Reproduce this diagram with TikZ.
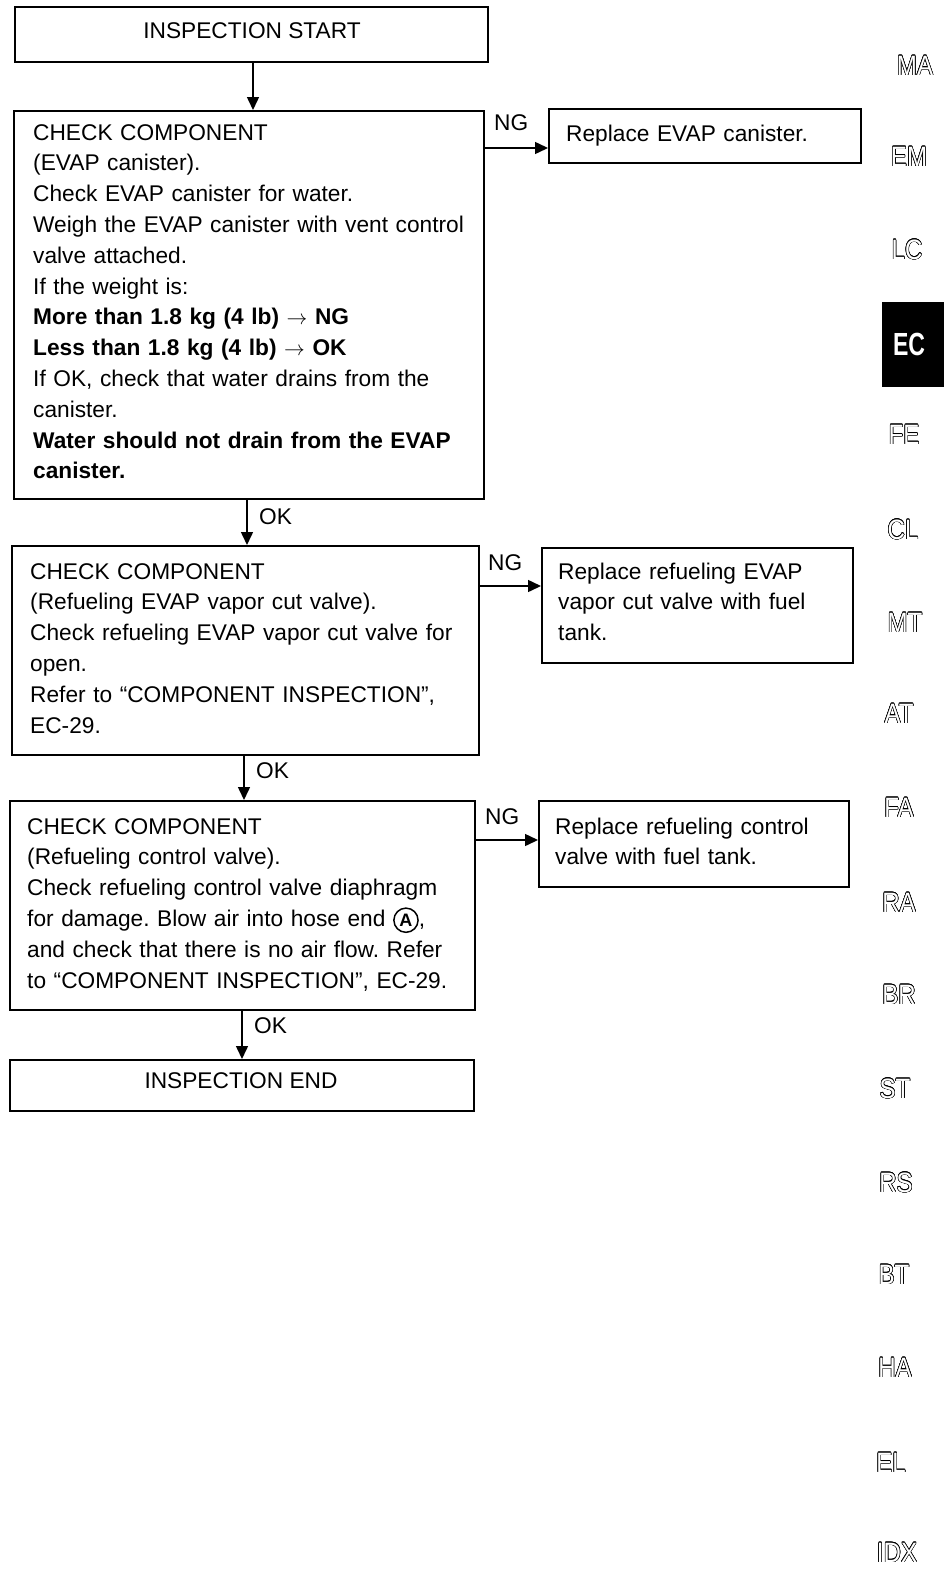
\documentclass[tikz,border=0pt]{standalone}
\usepackage{fontspec}
\setmainfont{Liberation Sans}
\usepackage{graphicx}
\usepackage[copies]{contour}
\contourlength{0.6pt}
\usetikzlibrary{arrows.meta}
\frenchspacing
\newcommand\sidetxt[1]{\scalebox{0.86}[1]{\contour{black}{#1}}}
\newcommand\circA{\tikz[baseline=(ca.base)]\node[circle,draw,line width=1.5pt,inner sep=2.2pt,font=\bfseries\fontsize{18}{18}\selectfont](ca){A};}
\begin{document}
\begin{tikzpicture}[x=1pt,y=-1pt,
  box/.style={draw,line width=1.7pt,inner sep=0pt,anchor=north west},
  txt/.style={inner sep=0pt,anchor=base west,align=left,text width=460pt,font=\fontsize{22.7}{30.8}\selectfont},
  lbl/.style={inner sep=0pt,anchor=base west,font=\fontsize{22.7}{30.8}\selectfont},
  ctxt/.style={inner sep=0pt,anchor=base,font=\fontsize{22.7}{30.8}\selectfont},
  arr/.style={line width=1.5pt,-{Triangle[length=13pt,width=12pt]}},
  side/.style={inner sep=0pt,text=white,font=\fontsize{28}{28}\selectfont}]
\useasboundingbox (0,0) rectangle (944,1571);
% boxes
\node[box,minimum width=473pt,minimum height=55pt] (start) at (14,6) {};
\node[ctxt] (tstart) at (252,38.5) {INSPECTION START};
\node[box,minimum width=470pt,minimum height=388pt] (b1) at (13,110) {};
\node[box,minimum width=312pt,minimum height=54pt] (r1) at (548,108) {};
\node[box,minimum width=467pt,minimum height=209pt] (b2) at (11,545) {};
\node[box,minimum width=311pt,minimum height=115pt] (r2) at (541,547) {};
\node[box,minimum width=465pt,minimum height=209pt] (b3) at (9,800) {};
\node[box,minimum width=310pt,minimum height=86pt] (r3) at (538,800) {};
\node[box,minimum width=464pt,minimum height=51pt] (end) at (9,1059) {};
\node[ctxt] (tend) at (241,1088.5) {INSPECTION END};
% texts
\node[txt] (t1) at (33,140) {CHECK COMPONENT\\
(EVAP canister).\\
Check EVAP canister for water.\\
Weigh the EVAP canister with vent control\\
valve attached.\\
If the weight is:\\
\textbf{More than 1.8 kg (4 lb) $\rightarrow$ NG}\\
\textbf{Less than 1.8 kg (4 lb) $\rightarrow$ OK}\\
If OK, check that water drains from the\\
canister.\\
\textbf{Water should not drain from the EVAP}\\
\textbf{canister.}};
\node[txt] (tr1) at (566,141.5) {Replace EVAP canister.};
\node[txt] (t2) at (30,579) {CHECK COMPONENT\\
(Refueling EVAP vapor cut valve).\\
Check refueling EVAP vapor cut valve for\\
open.\\
Refer to “COMPONENT INSPECTION”,\\
EC-29.};
\node[txt] (tr2) at (558,579) {Replace refueling EVAP\\
vapor cut valve with fuel\\
tank.};
\node[txt] (t3) at (27,834) {CHECK COMPONENT\\
(Refueling control valve).\\
Check refueling control valve diaphragm\\
for damage. Blow air into hose end \circA,\\
and check that there is no air flow. Refer\\
to “COMPONENT INSPECTION”, EC-29.};
\node[txt] (tr3) at (555,834) {Replace refueling control\\
valve with fuel tank.};
% connectors
\coordinate (xa) at (253,0);
\coordinate (xb) at (247,0);
\coordinate (xc) at (244,0);
\coordinate (xd) at (242,0);
\coordinate (ya) at (0,148);
\coordinate (yb) at (0,586);
\coordinate (yc) at (0,840);
\draw[arr] (xa |- start.south) -- (xa |- b1.north);
\draw[arr] (xb |- b1.south) -- (xb |- b2.north);
\draw[arr] (xc |- b2.south) -- (xc |- b3.north);
\draw[arr] (xd |- b3.south) -- (xd |- end.north);
\draw[arr] (ya -| b1.east) -- (ya -| r1.west);
\draw[arr] (yb -| b2.east) -- (yb -| r2.west);
\draw[arr] (yc -| b3.east) -- (yc -| r3.west);
\node[lbl] (ok1) at (259,524.5) {OK};
\node[lbl] (ok2) at (256,778.5) {OK};
\node[lbl] (ok3) at (254,1033.5) {OK};
\node[lbl] (ng1) at (494,130.5) {NG};
\node[lbl] (ng2) at (488,570.5) {NG};
\node[lbl] (ng3) at (485,824.5) {NG};
% side tabs
\node[side] (sMA) at (915,66) {\sidetxt{MA}};
\node[side] (sEM) at (909,157) {\sidetxt{EM}};
\node[side] (sLC) at (907,250) {\sidetxt{LC}};
\node[fill=black,inner sep=0pt,minimum width=62pt,minimum height=85pt,anchor=north west] (ecbox) at (882,302) {};
\node[inner sep=0pt,text=white,font=\bfseries\fontsize{32}{32}\selectfont] (sEC) at (909,344) {\scalebox{0.72}[1]{EC}};
\node[side] (sFE) at (904,435) {\sidetxt{FE}};
\node[side] (sCL) at (903,530) {\sidetxt{CL}};
\node[side] (sMT) at (905,623) {\sidetxt{MT}};
\node[side] (sAT) at (899,714) {\sidetxt{AT}};
\node[side] (sFA) at (899,808) {\sidetxt{FA}};
\node[side] (sRA) at (899,903) {\sidetxt{RA}};
\node[side] (sBR) at (899,995) {\sidetxt{BR}};
\node[side] (sST) at (895,1089) {\sidetxt{ST}};
\node[side] (sRS) at (896,1183) {\sidetxt{RS}};
\node[side] (sBT) at (894,1275) {\sidetxt{BT}};
\node[side] (sHA) at (895,1368) {\sidetxt{HA}};
\node[side] (sEL) at (891,1463) {\sidetxt{EL}};
\node[side] (sIDX) at (897,1553) {\sidetxt{IDX}};
\end{tikzpicture}
\end{document}
